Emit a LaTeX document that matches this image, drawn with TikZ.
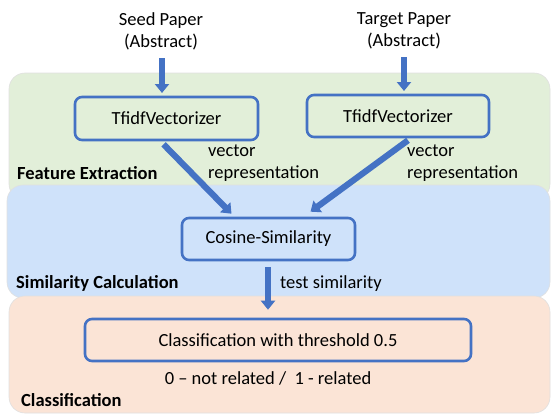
\documentclass[tikz,border=0pt]{standalone}
\usepackage{fontspec}
\setmainfont{Carlito}
\usetikzlibrary{arrows.meta}
\definecolor{flowblue}{HTML}{4472C4}
\definecolor{bandgreen}{HTML}{E2EFD9}
\definecolor{bandblue}{HTML}{CFE2FA}
\definecolor{bandpeach}{HTML}{FBE4D6}
\newcommand{\basefont}{\fontsize{18.5}{22}\selectfont}
\tikzset{
  band/.style={rounded corners=16pt, draw=black!12, line width=0.6pt},
  stagebox/.style={draw=flowblue, line width=2.6pt, rounded corners=7pt,
    inner sep=0pt, minimum height=42pt},
  flow/.style={draw=flowblue, line width=6.2pt,
    -{Triangle[width=14pt,length=9pt]}},
  bandlabel/.style={font=\basefont\bfseries, anchor=base west, inner sep=0pt},
  note/.style={align=left, anchor=north west, inner sep=0pt},
}
\begin{document}
\begin{tikzpicture}[x=1pt, y=-1pt, font=\basefont]
\useasboundingbox (0,0) rectangle (552,415);
\fill[white] (0,0) rectangle (552,415);

% stage bands
\draw[band, fill=bandgreen] (9,73) rectangle (550,200);
\draw[band, fill=bandblue] (7,185) rectangle (550,298);
\draw[band, fill=bandpeach] (9,296) rectangle (550,413);

% inputs
\node[align=center, inner sep=0pt] (seed) at (161,31) {Seed Paper\\(Abstract)};
\node[align=center, inner sep=0pt] (target) at (404,31) {Target Paper\\(Abstract)};

% processing boxes
\node[stagebox, minimum width=183pt, minimum height=43pt] (t1) at (166.5,118.5) {TfidfVectorizer};
\node[stagebox, minimum width=182pt] (t2) at (398,116) {TfidfVectorizer};
\node[stagebox, minimum width=173pt] (cos) at (268.5,239) {Cosine-Similarity};
\node[stagebox, minimum width=386pt] (cls) at (278,340) {Classification with threshold 0.5};

% connectors
\draw[flow] ([xshift=1pt]seed.south |- 0,58) coordinate (s0) -- (s0 |- 0,93);
\draw[flow] (target.south |- 0,57) coordinate (g0) -- (g0 |- 0,91);
\draw[flow] ([xshift=-3pt,yshift=-3pt]t1.south) -- ([xshift=-37pt,yshift=3pt]cos.north);
\draw[flow] ([xshift=10pt,yshift=-2pt]t2.south) -- ([xshift=42pt,yshift=5pt]cos.north);
\draw[flow] ([xshift=-0.5pt,yshift=-6pt]cos.south) -- ([xshift=-10pt,yshift=8pt]cls.north);

% connector labels
\node[note] (v1) at (208,145) {vector\\representation};
\node[note] (v2) at (407,145) {vector\\representation};
\node[anchor=base west, inner sep=0pt] (ts) at (280,288) {test similarity};
\node[anchor=base, inner sep=0pt] (res) at (268,384) {0 – not related /~~1 - related};

% band titles
\node[bandlabel] (fe) at (17,179) {Feature Extraction};
\node[bandlabel] (sc) at (16,288) {Similarity Calculation};
\node[bandlabel] (cl) at (21,406) {Classification};
\end{tikzpicture}
\end{document}
